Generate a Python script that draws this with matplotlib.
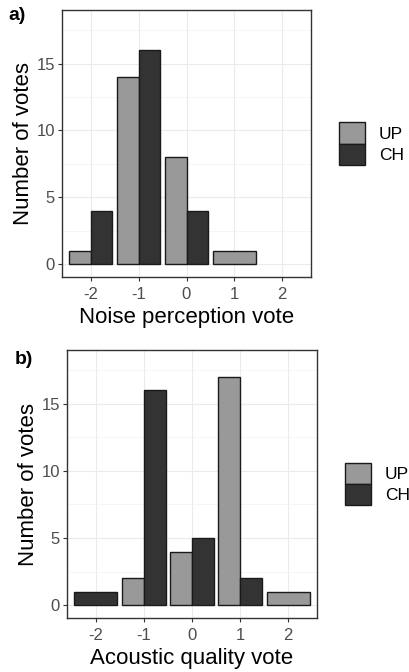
import matplotlib.pyplot as plt
from matplotlib.patches import Patch

plt.rcParams['font.family'] = ['Liberation Sans', 'DejaVu Sans']
plt.rcParams['axes.unicode_minus'] = False

votes = [-2, -1, 0, 1, 2]
groups = ['UP', 'CH']
colores = {'UP': '#999999', 'CH': '#333333'}

# conteos por voto (0 = sin votos, no se dibuja barra)
noise_up = [1, 14, 8, 1, 0]
noise_ch = [4, 16, 4, 0, 0]
acoustic_up = [0, 2, 4, 17, 1]
acoustic_ch = [1, 16, 5, 2, 0]

fig = plt.figure(figsize=(4.09, 6.72), dpi=100)


def panel(ax, up, ch, xlabel):
    w = 0.9
    for x, u, c in zip(votes, up, ch):
        if u > 0 and c > 0:
            ax.bar(x - w / 4, u, width=w / 2, color=colores['UP'], edgecolor='#1a1a1a', linewidth=1.0, zorder=3)
            ax.bar(x + w / 4, c, width=w / 2, color=colores['CH'], edgecolor='#1a1a1a', linewidth=1.0, zorder=3)
        elif u > 0:
            ax.bar(x, u, width=w, color=colores['UP'], edgecolor='#1a1a1a', linewidth=1.0, zorder=3)
        elif c > 0:
            ax.bar(x, c, width=w, color=colores['CH'], edgecolor='#1a1a1a', linewidth=1.0, zorder=3)
    ax.set_xlim(-2.6, 2.6)
    ax.set_ylim(-0.95, 19)
    ax.set_xticks(votes)
    ax.set_yticks([0, 5, 10, 15])
    ax.set_yticks([2.5, 7.5, 12.5, 17.5], minor=True)
    ax.grid(True, which='major', color='#ebebeb', linewidth=0.8, zorder=0)
    ax.grid(True, which='minor', axis='y', color='#f2f2f2', linewidth=0.5, zorder=0)
    ax.tick_params(which='minor', length=0)
    ax.tick_params(which='major', length=3, color='#333333', labelcolor='#4d4d4d', labelsize=12, pad=2)
    ax.tick_params(axis='x', pad=4)
    for s in ax.spines.values():
        s.set_color('#333333')
        s.set_linewidth(1.0)
    ax.set_xlabel(xlabel, fontsize=16, labelpad=4)
    ax.set_ylabel('Number of votes', fontsize=16, labelpad=2)
    handles = [Patch(facecolor=colores[g], edgecolor='#1a1a1a', label=g) for g in groups]
    ax.legend(handles=handles, loc='center left', bbox_to_anchor=(1.05, 0.5), frameon=False,
              fontsize=12.5, handlelength=1.5, handleheight=1.5, labelspacing=0.0, handletextpad=0.8)


ax1 = fig.add_axes([62 / 409, 1 - 277 / 672, 249 / 409, 267 / 672])
panel(ax1, noise_up, noise_ch, 'Noise perception vote')
ax2 = fig.add_axes([67 / 409, 1 - 618 / 672, 250 / 409, 268 / 672])
panel(ax2, acoustic_up, acoustic_ch, 'Acoustic quality vote')

fig.text(8 / 409, 1 - 16 / 672, 'a)', fontsize=14, fontweight='bold', va='center')
fig.text(15 / 409, 1 - 360 / 672, 'b)', fontsize=14, fontweight='bold', va='center')

fig.savefig('out.png', dpi=100)
